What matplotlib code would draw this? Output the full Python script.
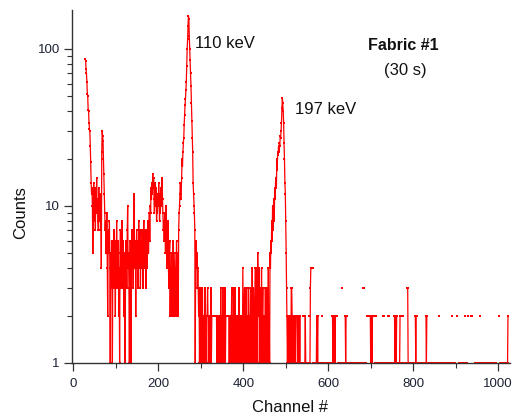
import numpy as np
import matplotlib
matplotlib.use("Agg")
import matplotlib.pyplot as plt

plt.rcParams['font.family'] = ['Liberation Sans', 'DejaVu Sans']

# counts per channel (0 = empty channel, not drawn on log axis)
decay_start = 28
counts_decay = [86, 84, 75, 70, 62, 52, 50, 41, 40, 34, 31, 30, 24, 19, 14, 12,
                13, 10, 5, 9, 14, 11, 8, 13, 7, 12, 10, 15, 9, 11, 8, 7, 13, 10, 8, 12, 7, 9, 4,
                22, 30, 28, 26, 20, 16, 12,
                9, 7, 8, 5, 6, 9, 4, 2, 6, 7, 5, 8, 4, 1, 5, 3, 6]

noise_start = 91
counts_noise = [5, 1, 4, 6, 3, 7, 4, 5, 2, 6, 4, 8, 3, 5, 4, 6, 2, 4, 1, 5,
                7, 3, 5, 4, 8, 3, 6, 4, 2, 5, 3, 1, 4, 6, 5, 3, 7, 10, 4, 5,
                3, 1, 4, 6, 2, 1, 5, 7, 4, 6, 3, 8, 12, 5, 4, 6, 2, 5, 7, 4,
                6, 3, 5, 8, 4, 6, 7, 3, 5, 6, 4, 7, 5, 3, 6, 8, 4, 5, 7, 6,
                3, 5, 7, 4, 6, 8, 5, 7, 9, 6,
                10, 9, 13, 11, 14, 12, 16, 13, 15, 11, 9, 14, 12, 10, 13, 8,
                11, 9, 12, 10, 14, 11, 8, 12, 9, 13, 10, 14, 15, 11, 9, 7,
                8, 6, 9, 7, 5, 10, 6, 4, 7, 5, 8, 4, 3, 5, 6, 2, 4, 3, 5, 2,
                4, 3, 6, 4, 2, 3, 5, 2, 4, 3, 6, 2, 3, 5, 2, 7, 9, 10, 12]

peak110_start = 252
counts_peak110 = [14, 11, 13, 15, 20, 18, 22, 25, 27, 33, 38, 44, 48, 55, 62, 78,
                  100, 115, 140, 163, 155, 120, 100, 85, 70, 58, 45, 35, 27, 22,
                  14, 12, 10, 9, 7, 1, 5, 6, 4, 5, 3, 4, 3, 2]

tail1_start = 296
tail1 = ("3121321231 2121321222 3212122131 2222222222 2212221222 "
         "1312213121 2312222222 2122122312 1321231212 2121312122 "
         "1214212312 1312213121 2312141232 1241342153 2413121412 "
         "3121213121 3214121")

peak197_start = 463
counts_peak197 = [5, 4, 6, 5, 8, 6, 10, 7, 9, 11, 8, 13, 11, 14, 15, 13, 20, 17,
                  22, 21, 24, 22, 25, 24, 28, 27, 30, 34, 42, 49, 45, 40, 34, 25,
                  20, 14, 12, 8, 5, 3, 2, 1]

tail2_start = 505
tail2 = ("2212122133 2122122212 2221221121 1101022011 1211101110 "
         "2013440440 1110111122 1220111010 2011110111 1101111011 "
         "1110221212 2122020111 1011110330 1110221220 1111011111 "
         "1011111011 1111101111 1011103330 1111102202 0222212212 "
         "0220110220 1111011110 1111022201 1110102201 1101111102 "
         "2212212011 1011201022 2011110111 0331111011 1111011110 "
         "2122011110 1111101111 1110221201 1110111111 0111111011 "
         "1111022011 1100011111 1011111101 1111102201 1111100022 "
         "0011111011 1111110220 1110220000 0022000000 0111111011 "
         "1022011111 1101111111 0111111011 1111101111 1000002201 "
         "1111111011 111011112")

counts = np.zeros(1024)
for start, vals in [(decay_start, counts_decay), (noise_start, counts_noise),
                    (peak110_start, counts_peak110), (peak197_start, counts_peak197)]:
    counts[start:start + len(vals)] = vals
for start, s in [(tail1_start, tail1), (tail2_start, tail2)]:
    vals = [int(c) for c in s.replace(" ", "")]
    counts[start:start + len(vals)] = vals

channel = np.arange(1024)
y = np.where(counts > 0, counts, np.nan)

fig = plt.figure(figsize=(5.15, 4.18), dpi=100)
ax = fig.add_axes([0.139, 0.1316, 0.8515, 0.8445])

ax.plot(channel, y, color='red', lw=0.9, marker='s', ms=2.0, mew=0)

ax.set_yscale('log')
ax.set_ylim(1, 177)
ax.set_xlim(-4, 1028)
ax.set_xticks([0, 200, 400, 600, 800, 1000])
ax.set_xticks(np.arange(100, 1001, 200), minor=True)
ax.set_yticks([1, 10, 100])
ax.set_yticklabels(['1', '10', '100'])

for s in ['top', 'right']:
    ax.spines[s].set_visible(False)
for s in ['left', 'bottom']:
    ax.spines[s].set_color('#333333')
    ax.spines[s].set_linewidth(1.0)

ax.tick_params(axis='both', which='major', direction='out', length=5.5, width=0.9,
               colors='#333333', labelcolor='#1c2233', labelsize=9.5, pad=3)
ax.tick_params(axis='both', which='minor', direction='out', length=3.5, width=0.8,
               colors='#333333')
ax.tick_params(axis='x', which='major', pad=5)

ax.text(287, 108, '110 keV', fontsize=12, va='center', ha='left', color='#111111')
ax.text(522, 41, '197 keV', fontsize=12, va='center', ha='left', color='#111111')

fig.text(403 / 515, 1 - 45 / 418, 'Fabric #1', fontsize=11.5, fontweight='bold',
         ha='center', va='center', color='#111111')
fig.text(405 / 515, 1 - 70 / 418, '(30 s)', fontsize=12, ha='center', va='center',
         color='#111111')
fig.text(21 / 515, 1 - 213 / 418, 'Counts', fontsize=12, rotation=90,
         ha='center', va='center', color='#111111')
fig.text(290 / 515, 1 - 408 / 418, 'Channel #', fontsize=12, ha='center', va='center',
         color='#111111')

fig.savefig('out.png', dpi=100)
